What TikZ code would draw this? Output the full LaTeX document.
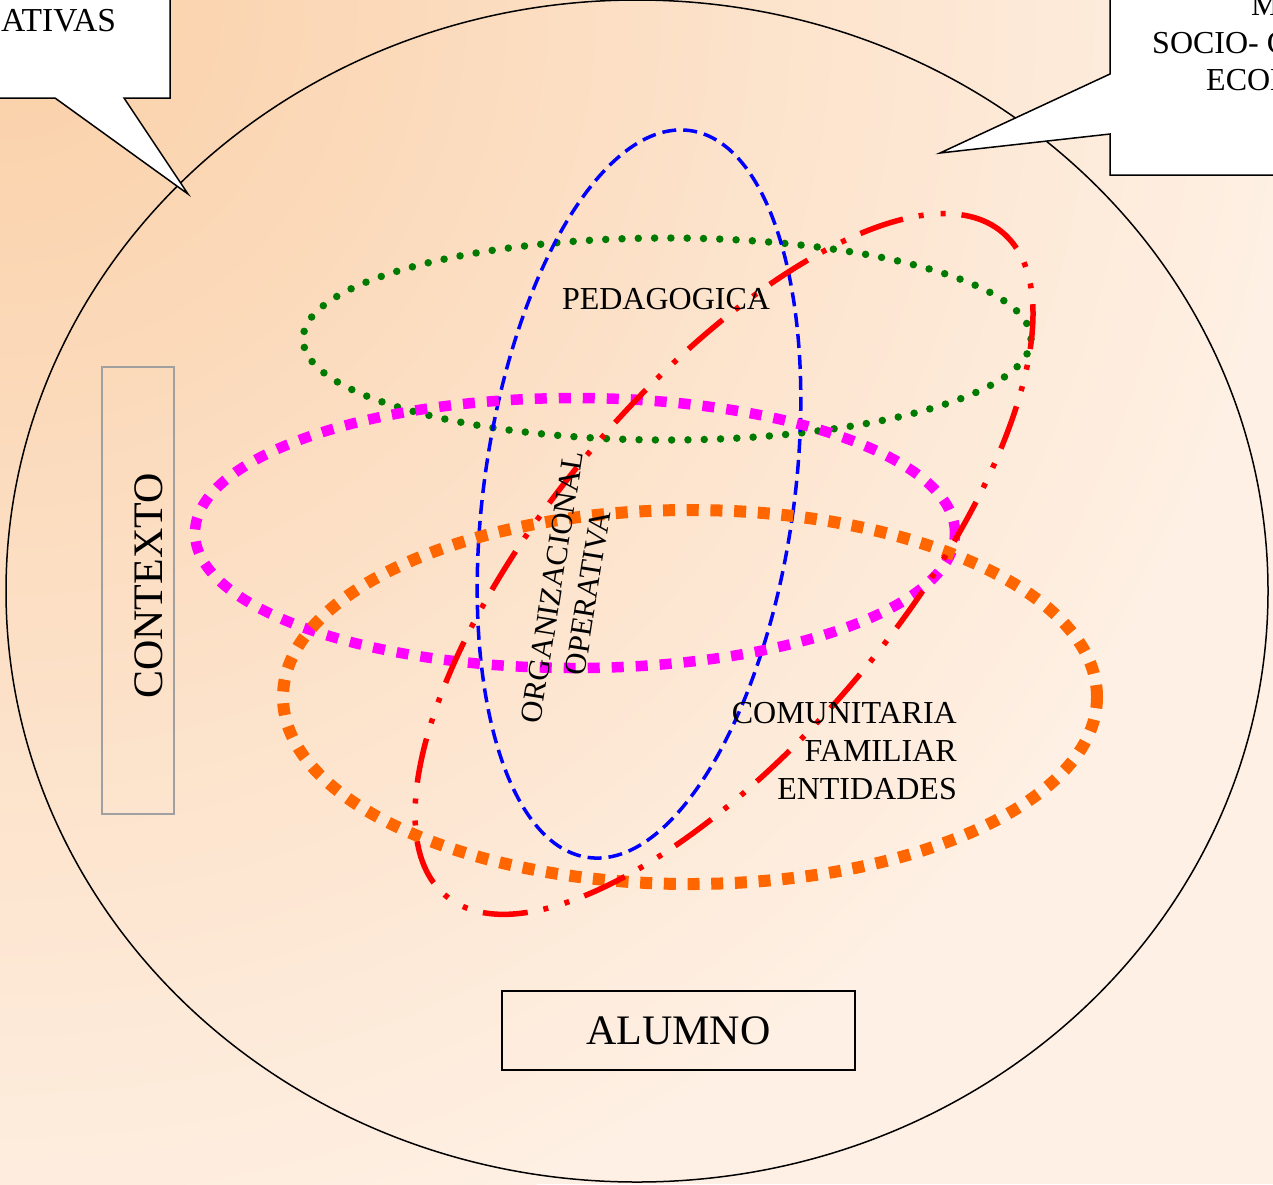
\documentclass[tikz,border=0pt]{standalone}
\usepackage{fontspec}
\setmainfont{Liberation Serif}
\definecolor{bgtop}{HTML}{FAD0A8}
\definecolor{bgbot}{HTML}{FEF0E4}
\definecolor{dkgreen}{HTML}{007A00}
\definecolor{orng}{HTML}{FF6600}
\definecolor{mgnt}{HTML}{FF00FF}
\definecolor{boxgray}{HTML}{A0A0A0}
\tikzset{
  callout/.style={draw=black, fill=white, line width=1.5pt, line join=miter},
  lbl/.style={font=\fontsize{32}{38}\selectfont, inner sep=0pt, text=black},
  biglbl/.style={font=\fontsize{42}{48}\selectfont, inner sep=0pt, text=black},
  blueell/.style={draw=blue, line width=3.5pt, dash pattern=on 14pt off 7pt},
  greenell/.style={draw=dkgreen, line width=7.5pt, line cap=round, dash pattern=on 0pt off 16.3pt},
  magell/.style={draw=mgnt, line width=10.5pt, dash pattern=on 12pt off 12pt},
  orangeell/.style={draw=orng, line width=12pt, dash pattern=on 12pt off 11.7pt},
  redell/.style={draw=red, line width=5.5pt, dash pattern=on 45pt off 16pt on 5pt off 17pt on 5pt off 16pt},
}
\begin{document}
\begin{tikzpicture}[x=1pt,y=1pt]
\useasboundingbox (0,0) rectangle (1273,-1184);
\clip (0,0) rectangle (1273,-1184);
% background
\fill[bgbot] (0,0) rectangle (1273,-1184);
\shade[inner color=bgtop, outer color=bgbot] (0,0) circle (1300);
% big circle
\draw[line width=1.5pt] (637,-591) ellipse [x radius=631, y radius=591];
% callouts
\draw[callout] (-10,10) -- (170,10) -- (170,-98) -- (124,-98) -- (188,-194) -- (55,-98) -- (-10,-98) -- cycle;
\node[lbl, anchor=base west, font=\fontsize{33.5}{38}\selectfont] (ativas) at (1,-31) {ATIVAS};
\draw[callout] (1110,10) -- (1290,10) -- (1290,-175) -- (1110,-175) -- (1110,-134) -- (940,-153) -- (1110,-74) -- cycle;
\node[lbl, anchor=base west] (m) at (1251,-15) {M};
\node[lbl, anchor=base west] (socio) at (1152,-53) {SOCIO- C};
\node[lbl, anchor=base west] (econ) at (1206,-90) {ECON};
% ellipses
\draw[greenell] (667,-339) ellipse [x radius=364, y radius=101];
\draw[blueell, rotate around={-8:(639,-494)}] (639,-494) ellipse [x radius=155, y radius=367];
\draw[magell] (575,-533) ellipse [x radius=380, y radius=135];
\draw[orangeell] (690,-697) ellipse [x radius=407, y radius=187];
\draw[redell, rotate around={50:(724,-564)}] (724,-564) ellipse [x radius=433, y radius=175];
% boxes
\node[draw=boxgray, line width=2.5pt, minimum width=72pt, minimum height=447pt, inner sep=0pt] (ctxbox) at (138,-590.5) {};
\node[biglbl, rotate=90] (contexto) at (149,-586) {CONTEXTO};
\node[draw=black, line width=1.8pt, minimum width=353pt, minimum height=79pt, inner sep=0pt, biglbl] (alumno) at (678.5,-1030.5) {ALUMNO};
% labels
\node[lbl, anchor=base] (ped) at (666,-309) {PEDAGOGICA};
\node[lbl, rotate=81, align=center, font=\fontsize{30.5}{36}\selectfont] (org) at (570,-590) {ORGANIZACIONAL\\OPERATIVA};
\node[lbl, align=right, anchor=north east] (com) at (957,-702) {COMUNITARIA\\FAMILIAR\\ENTIDADES};
\end{tikzpicture}
\end{document}
